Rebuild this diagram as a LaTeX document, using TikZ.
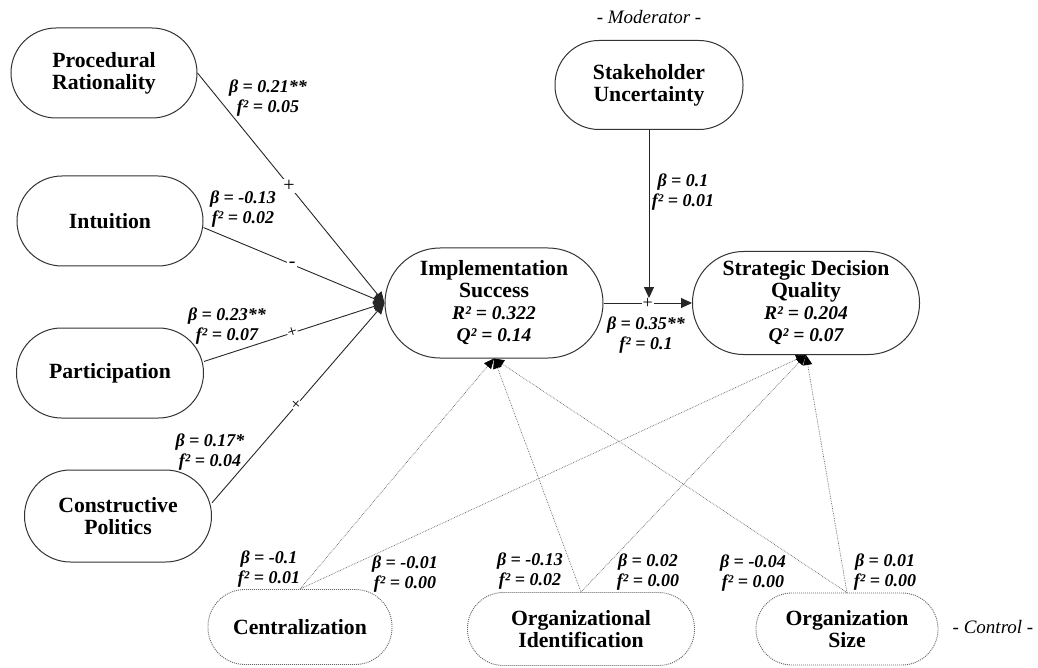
\documentclass[tikz,border=0pt]{standalone}
\usepackage{fontspec}
\setmainfont{Liberation Serif}[BoldFont={Liberation Serif Bold},ItalicFont={Liberation Serif Italic},BoldItalicFont={Liberation Serif Bold Italic}]
\newfontfamily\tnr{Liberation Serif}
\usetikzlibrary{arrows.meta,calc}
\newcommand\rsqf{\fontsize{19.5}{20}\selectfont\tnr\bfseries\itshape}
\begin{document}
\begin{tikzpicture}[x=1pt,y=-1pt,
  lat/.style={draw=black!80, line width=1pt, align=center, inner sep=0pt,
    font=\tnr\fontsize{21.7}{22}\selectfont\bfseries},
  ctrl/.style={lat, draw=black!60, densely dotted, line width=0.9pt},
  stat/.style={font=\tnr\fontsize{18}{20}\selectfont\bfseries\itshape, align=center, inner sep=0pt},
  tag/.style={font=\tnr\fontsize{19}{20}\selectfont\itshape, inner sep=0pt},
  path/.style={draw=black!85, line width=0.9pt, -{Triangle[length=11pt,width=10pt]}},
  cpath/.style={draw=black!60, line width=0.7pt, densely dotted,
    -{Triangle[length=10pt,width=9pt,color=black,fill=black]}},
  sign/.style={fill=white, inner sep=1.5pt, font=\tnr\fontsize{20}{20}\selectfont}
]
\useasboundingbox (0,0) rectangle (1038,668);

% latent variables
\node[lat, minimum width=186pt, minimum height=90pt, rounded corners=45pt] (pr) at (104,73) {Procedural\\Rationality};
\node[lat, minimum width=186pt, minimum height=90pt, rounded corners=45pt] (in) at (110,221) {Intuition};
\node[lat, minimum width=187pt, minimum height=90pt, rounded corners=45pt] (pa) at (110,373) {Participation};
\node[lat, minimum width=187pt, minimum height=92pt, rounded corners=46pt] (cp) at (118,516) {Constructive\\Politics};
\node[lat, minimum width=218pt, minimum height=110pt, rounded corners=55pt] (is) at (494,303)
  {Implementation\\Success\\{\rsqf R² = 0.322}\\{\rsqf Q² = 0.14}};
\node[lat, minimum width=188pt, minimum height=89pt, rounded corners=44pt] (su) at (649,85) {Stakeholder\\Uncertainty};
\node[lat, minimum width=227pt, minimum height=103pt, rounded corners=51pt] (sdq) at (806,303)
  {Strategic Decision\\Quality\\{\rsqf R² = 0.204}\\{\rsqf Q² = 0.07}};

% control variables
\node[ctrl, minimum width=184pt, minimum height=75pt, rounded corners=37pt] (ce) at (300,627) {Centralization};
\node[ctrl, minimum width=227pt, minimum height=73pt, rounded corners=36pt] (oi) at (581,629) {Organizational\\Identification};
\node[ctrl, minimum width=182pt, minimum height=72pt, rounded corners=36pt] (os) at (847,629) {Organization\\Size};

% tags
\node[tag] (modl) at (649,17) {- Moderator -};
\node[tag] (ctll) at (993,627) {- Control -};

% structural paths
\draw[path] (pr.east) -- node[sign,pos=0.49]{+} (is.west);
\draw[path] (in.-4) -- node[sign,pos=0.49]{-} (is.west);
\draw[path] (pa.7) -- node[sign,pos=0.49,sloped,inner sep=0.5pt,font=\tnr\fontsize{17}{17}\selectfont]{+} (is.west);
\draw[path] (cp.8) -- node[sign,pos=0.49,sloped,inner sep=0.5pt,font=\tnr\fontsize{17}{17}\selectfont]{+} (is.west);
\draw[path] (is.east) -- node[sign,pos=0.5,inner sep=1pt,font=\tnr\fontsize{18}{18}\selectfont] (plus){+} (sdq.west);
\coordinate (m) at ($(is.east)!0.5!(sdq.west)$);
\coordinate (mt) at ([yshift=5pt]su.south |- m);
\draw[path] (su.south) -- (mt);

% control paths
\draw[cpath] (ce.north) -- (is.south);
\draw[cpath] (ce.north) -- (sdq.south);
\draw[cpath] (oi.north) -- (is.south);
\draw[cpath] (oi.north) -- (sdq.south);
\draw[cpath] (os.north) -- (is.south);
\draw[cpath] (os.north) -- (sdq.south);

% statistics
\node[stat] (s1) at (268,98) {β = 0.21**\\f² = 0.05};
\node[stat] (s2) at (243,209) {β = -0.13\\f² = 0.02};
\node[stat] (s3) at (227,326) {β = 0.23**\\f² = 0.07};
\node[stat] (s4) at (210,452) {β = 0.17*\\f² = 0.04};
\node[stat] (s5) at (683,192) {β = 0.1\\f² = 0.01};
\node[stat] (s6) at (646,335) {β = 0.35**\\f² = 0.1};
\node[stat] (s7) at (269,569) {β = -0.1\\f² = 0.01};
\node[stat] (s8) at (405,574) {β = -0.01\\f² = 0.00};
\node[stat] (s9) at (530,571) {β = -0.13\\f² = 0.02};
\node[stat] (s10) at (648,572) {β = 0.02\\f² = 0.00};
\node[stat] (s11) at (753,573) {β = -0.04\\f² = 0.00};
\node[stat] (s12) at (885,572) {β = 0.01\\f² = 0.00};
\end{tikzpicture}
\end{document}
